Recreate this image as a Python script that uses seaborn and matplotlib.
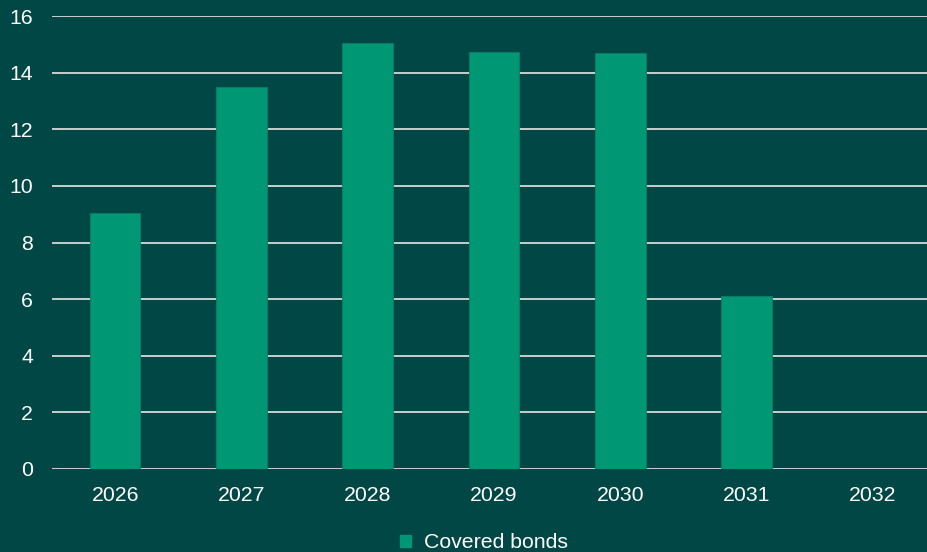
import matplotlib
matplotlib.use("Agg")
import matplotlib.pyplot as plt
import seaborn as sns
import pandas as pd
from matplotlib.patches import Patch

# Maturity profile of covered bonds (EUR bn)
years = ["2026", "2027", "2028", "2029", "2030", "2031", "2032"]
covered_bonds = [9.05, 13.5, 15.03, 14.73, 14.68, 6.1, 0.0]
series_name = "Covered bonds"
y_ticks = [0, 2, 4, 6, 8, 10, 12, 14, 16]

BG = "#014745"
BAR = "#009775"
GRID = "#c9cfce"
TEXT = "#ffffff"

sns.set_theme(style="white")
plt.rcParams["font.family"] = ["Liberation Sans", "DejaVu Sans"]

df = pd.DataFrame({"year": years, "value": covered_bonds})

fig = plt.figure(figsize=(9.27, 5.52), dpi=100, facecolor=BG)
ax = fig.add_axes([52 / 927, 83 / 552, 884 / 927, 453 / 552])
ax.set_facecolor(BG)

sns.barplot(data=df, x="year", y="value", color=BAR, width=0.4,
            saturation=1, edgecolor="#0b7d68", linewidth=0.6, ax=ax, zorder=3)

ax.set_ylim(0, 16)
ax.set_yticks(y_ticks)
ax.set_xlim(-0.5, len(years) - 0.5)
ax.yaxis.grid(True, color=GRID, linewidth=1.4, zorder=0)
ax.set_axisbelow(True)
for s in ax.spines.values():
    s.set_visible(False)
ax.set_xlabel("")
ax.set_ylabel("")
ax.tick_params(axis="both", length=0, labelsize=15.3, colors=TEXT)
ax.tick_params(axis="y", pad=13.5)
ax.tick_params(axis="x", pad=12)

handle = Patch(facecolor=BAR, edgecolor=BAR, label=series_name)
fig.legend(handles=[handle], loc="center", bbox_to_anchor=(484 / 927, 9 / 552),
           frameon=False, fontsize=15.3, labelcolor=TEXT,
           handlelength=0.55, handleheight=0.55, handletextpad=0.6)

fig.savefig("out.png", dpi=100, facecolor=BG)
